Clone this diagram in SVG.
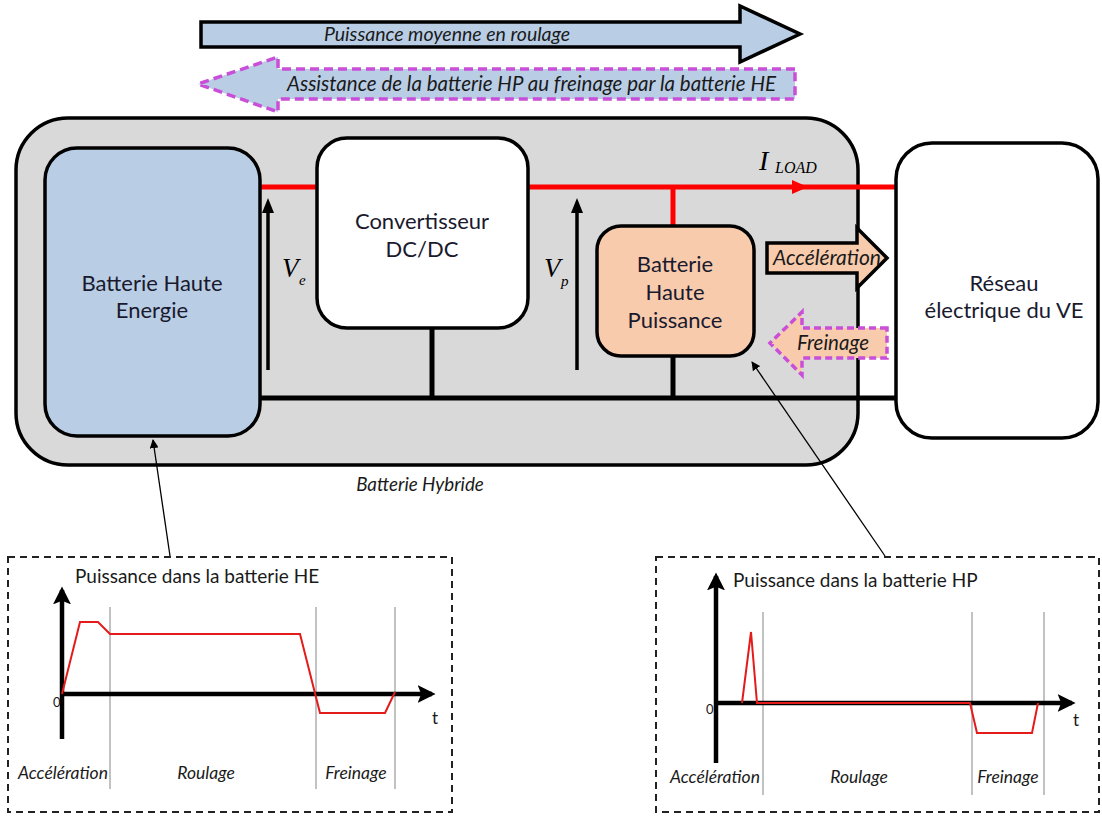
<svg xmlns="http://www.w3.org/2000/svg" width="1102" height="816" viewBox="0 0 1102 816">
<style>
.box{stroke:#000;stroke-width:3.5}
.t{font-family:Lato,"Open Sans",sans-serif;font-size:22px;fill:#1a1a2e;text-anchor:middle}
.it{font-family:Lato,"Open Sans",sans-serif;font-style:italic;fill:#1a1a1a}
.n{font-family:Lato,"Open Sans",sans-serif;fill:#1a1a1a}
.m{font-family:"Liberation Serif",serif;font-style:italic;fill:#000}
.red{stroke:#ff0000;stroke-width:5;fill:none}
.blk{stroke:#000;stroke-width:5;fill:none}
.grid{stroke:#999;stroke-width:1.2}
.curve{stroke:#e31b1b;stroke-width:2;fill:none}
.axis{stroke:#000;stroke-width:4.5;fill:none}
.dash{fill:none;stroke:#222;stroke-width:2;stroke-dasharray:7,5}
</style>
<defs>
<marker id="ah" viewBox="0 0 10 10" refX="9" refY="5" markerWidth="9" markerHeight="9" orient="auto" markerUnits="userSpaceOnUse">
<path d="M0,0 L10,5 L0,10 z" fill="#000"/>
</marker>
<marker id="bigah" viewBox="0 0 10 10" refX="8" refY="5" markerWidth="4" markerHeight="4" orient="auto">
<path d="M0,0 L10,5 L0,10 L2,5 z" fill="#000"/>
</marker>
</defs>
<rect width="1102" height="816" fill="#fff"/>

<g id="arrow-roulage">
<path d="M201,22 L740,22 L740,6 L800,34 L740,62 L740,47 L201,47 Z" fill="#b9cde5" stroke="#000" stroke-width="3.5"/>
<text class="it" x="447" y="41" font-size="19.5" text-anchor="middle">Puissance moyenne en roulage</text>
</g>
<g id="arrow-assistance">
<path d="M795,69 L278,69 L278,57 L198,84 L278,112 L278,99 L795,99 Z" fill="#b9cde5" stroke="#c94fd8" stroke-width="3.5" stroke-dasharray="9,5"/>
<text class="it" x="287" y="91" font-size="20.5">Assistance de la batterie HP au freinage par la batterie HE</text>
</g>

<g id="batterie-hybride">
<rect x="16" y="118" width="842" height="347" rx="52" fill="#d9d9d9" class="box"/>
<text class="it" x="420" y="491" font-size="18.8" text-anchor="middle">Batterie Hybride</text>
</g>

<g id="connectors">
<line x1="258" y1="187" x2="318" y2="187" class="red"/>
<line x1="526" y1="187" x2="898" y2="187" class="red"/>
<line x1="673" y1="187" x2="673" y2="226" class="red"/>
<path d="M792,180 L808,187 L792,194 Z" fill="#ff0000"/>
<line x1="258" y1="398" x2="898" y2="398" class="blk"/>
<line x1="432" y1="326" x2="432" y2="398" class="blk"/>
<line x1="673" y1="354" x2="673" y2="398" class="blk"/>
<line x1="268" y1="370" x2="268" y2="210" stroke="#000" stroke-width="3.5"/>
<path d="M262,213 L268,198 L274,213 Z" fill="#000"/>
<line x1="577" y1="370" x2="577" y2="210" stroke="#000" stroke-width="3.5"/>
<path d="M571,213 L577,198 L583,213 Z" fill="#000"/>
<line x1="170" y1="556" x2="153" y2="440" stroke="#000" stroke-width="1.3" marker-end="url(#ah)"/>
<line x1="885" y1="556" x2="752" y2="362" stroke="#000" stroke-width="1.3" marker-end="url(#ah)"/>
</g>

<g id="labels-math">
<text class="m" x="282" y="277" font-size="27">V</text>
<text class="m" x="299" y="285" font-size="15">e</text>
<text class="m" x="544" y="277" font-size="27">V</text>
<text class="m" x="561" y="286" font-size="15">p</text>
<text class="m" x="759" y="170" font-size="28">I</text>
<text class="m" x="775" y="173" font-size="16">LOAD</text>
</g>

<g id="batterie-he">
<rect x="45" y="148" width="215" height="288" rx="32" fill="#b9cde5" class="box"/>
<text class="t" x="152" y="291">Batterie Haute</text>
<text class="t" x="152" y="318">Energie</text>
</g>

<g id="convertisseur">
<rect x="317" y="138" width="211" height="190" rx="30" fill="#fff" class="box"/>
<text class="t" x="422" y="229">Convertisseur</text>
<text class="t" x="422" y="257">DC/DC</text>
</g>

<g id="batterie-hp">
<rect x="597" y="226" width="157" height="130" rx="24" fill="#f8cbad" class="box"/>
<text class="t" x="675" y="272">Batterie</text>
<text class="t" x="675" y="300">Haute</text>
<text class="t" x="675" y="328">Puissance</text>
</g>

<g id="reseau">
<rect x="896" y="143" width="202" height="295" rx="36" fill="#fff" class="box"/>
<text class="t" x="1004" y="291">Réseau</text>
<text class="t" x="1004" y="318">électrique du VE</text>
</g>

<g id="arrow-acceleration">
<path d="M767,243 L857,243 L857,228 L887,258 L857,288 L857,273 L767,273 Z" fill="#f8cbad" stroke="#000" stroke-width="3.5"/>
<text class="it" x="827" y="265" font-size="21" text-anchor="middle">Accélération</text>
</g>

<g id="arrow-freinage">
<path d="M887,328 L802,328 L802,312 L770,343 L802,375 L802,358 L887,358 Z" fill="#f8cbad" stroke="#c94fd8" stroke-width="3.5" stroke-dasharray="7,4"/>
<text class="it" x="833" y="350" font-size="20.5" text-anchor="middle">Freinage</text>
</g>

<g id="chart-he">
<rect x="8" y="557" width="444" height="255" fill="#dce6f2" class="dash"/>
<text class="n" x="75" y="583" font-size="19">Puissance dans la batterie HE</text>
<line x1="110" y1="607" x2="110" y2="789" class="grid"/>
<line x1="316" y1="607" x2="316" y2="789" class="grid"/>
<line x1="395" y1="607" x2="395" y2="789" class="grid"/>
<line x1="62" y1="739" x2="62" y2="590" class="axis" marker-end="url(#bigah)"/>
<line x1="62" y1="694" x2="432" y2="694" class="axis" marker-end="url(#bigah)"/>
<polyline points="62,694 80,622 98,622 110,634 300,634 320,713 385,713 395,692" class="curve"/>
<text class="n" x="53" y="707" font-size="13">0</text>
<text class="n" x="432" y="724" font-size="17">t</text>
<text class="it" x="63" y="779" font-size="17.5" text-anchor="middle">Accélération</text>
<text class="it" x="206" y="779" font-size="17.5" text-anchor="middle">Roulage</text>
<text class="it" x="356" y="779" font-size="17.5" text-anchor="middle">Freinage</text>
</g>

<g id="chart-hp">
<rect x="656" y="557" width="443" height="255" fill="#fbe5d6" class="dash"/>
<text class="n" x="733" y="587" font-size="19">Puissance dans la batterie HP</text>
<line x1="763" y1="612" x2="763" y2="795" class="grid"/>
<line x1="972" y1="612" x2="972" y2="795" class="grid"/>
<line x1="1044" y1="612" x2="1044" y2="795" class="grid"/>
<line x1="716" y1="763" x2="716" y2="576" class="axis" marker-end="url(#bigah)"/>
<line x1="716" y1="703" x2="1072" y2="703" class="axis" marker-end="url(#bigah)"/>
<polyline points="742,703 751,632 757,703 970,703 977,733 1032,733 1038,703" class="curve"/>
<text class="n" x="706" y="714" font-size="13">0</text>
<text class="n" x="1073" y="726" font-size="17">t</text>
<text class="it" x="715" y="783" font-size="17.5" text-anchor="middle">Accélération</text>
<text class="it" x="859" y="783" font-size="17.5" text-anchor="middle">Roulage</text>
<text class="it" x="1008" y="783" font-size="17.5" text-anchor="middle">Freinage</text>
</g>
</svg>
